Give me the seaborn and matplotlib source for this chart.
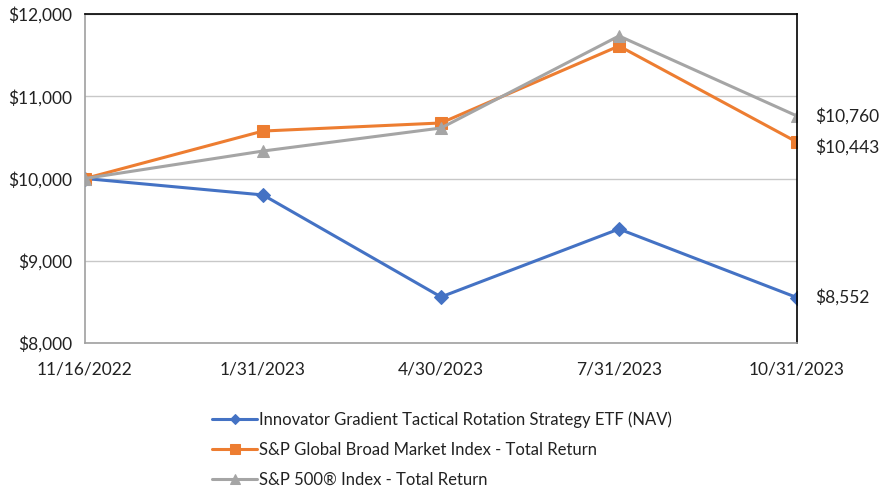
import matplotlib
matplotlib.use("Agg")
import matplotlib.pyplot as plt
import seaborn as sns
import pandas as pd
from matplotlib.ticker import FuncFormatter

dates = ["11/16/2022", "1/31/2023", "4/30/2023", "7/31/2023", "10/31/2023"]
fund = [10000, 9800, 8560, 9386, 8552]
global_idx = [10000, 10577, 10675, 11611, 10443]
sp500 = [10000, 10334, 10614, 11733, 10760]
series_names = [
    "Innovator Gradient Tactical Rotation Strategy ETF (NAV)",
    "S&P Global Broad Market Index - Total Return",
    "S&P 500\u00ae Index - Total Return",
]

rows = []
for name, vals in zip(series_names, [fund, global_idx, sp500]):
    for i, (d, v) in enumerate(zip(dates, vals)):
        rows.append({"pos": i, "date": d, "value": v, "series": name})
df = pd.DataFrame(rows)

sns.set_theme(style="white")
plt.rcParams["font.family"] = ["Lato", "DejaVu Sans"]

fig = plt.figure(figsize=(8.86, 4.91), dpi=100)
ax = fig.add_axes([85/886, (491-343)/491, (797-85)/886, (343-14)/491])

colors = ["#4472C4", "#ED7D31", "#A5A5A5"]
markers = ["D", "s", "^"]
msizes = [7, 9, 9]
for name, c, m, ms in zip(series_names, colors, markers, msizes):
    sub = df[df.series == name]
    sns.lineplot(data=sub, x="pos", y="value", ax=ax, color=c, marker=m,
                 markersize=ms, markeredgecolor=c, linewidth=2.2, label=name,
                 legend=False)

ax.set_xlim(0, len(dates) - 1)
ax.set_ylim(8000, 12000)
ax.set_xticks(range(len(dates)))
ax.set_xticklabels(dates)
ax.set_yticks([8000, 9000, 10000, 11000, 12000])
ax.yaxis.set_major_formatter(FuncFormatter(lambda v, p: f"${v:,.0f}"))
ax.set_xlabel("")
ax.set_ylabel("")
ax.grid(axis="y", color="#C8C8C8", linewidth=1)
ax.set_axisbelow(True)
for s in ["left", "bottom"]:
    ax.spines[s].set_color("#A0A0A0")
    ax.spines[s].set_linewidth(1.2)
for s in ["top", "right"]:
    ax.spines[s].set_color("#000000")
    ax.spines[s].set_linewidth(1.2)
ax.tick_params(axis="both", which="both", length=5, color="#A0A0A0",
               labelsize=12.5, colors="#A0A0A0", labelcolor="#222222")
ax.tick_params(axis="x", pad=8)
ax.tick_params(axis="y", pad=4)

for vals, off in zip([fund, global_idx, sp500], [0, -3.5, 0]):
    ax.annotate(f"${vals[-1]:,.0f}", xy=(len(dates) - 1, vals[-1]),
                xytext=(13, off), textcoords="offset points",
                va="center", ha="left", fontsize=12.5, color="#222222",
                annotation_clip=False)

handles, labels = ax.get_legend_handles_labels()
fig.legend(handles, labels, loc="upper left", bbox_to_anchor=(197/886, 1 - 396/491),
           frameon=False, fontsize=12, handlelength=2.7, handletextpad=0.1,
           labelspacing=0.85, labelcolor="#222222", markerscale=0.8)

fig.savefig("out.png", dpi=100)
